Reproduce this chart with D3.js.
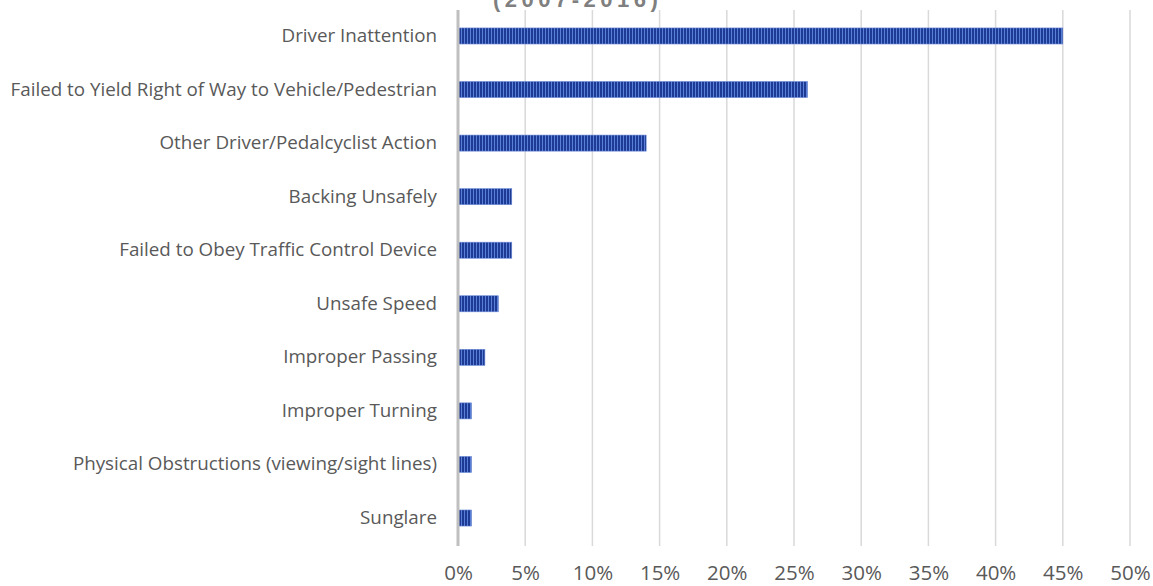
<!DOCTYPE html>
<html><head><meta charset="utf-8">
<script src="https://cdn.jsdelivr.net/npm/d3@7"></script>
<style>body{margin:0;background:#fff}</style>
</head><body>
<svg id="chart" width="1153" height="586"></svg>
<script>
const categories = ["Driver Inattention","Failed to Yield Right of Way to Vehicle/Pedestrian","Other Driver/Pedalcyclist Action","Backing Unsafely","Failed to Obey Traffic Control Device","Unsafe Speed","Improper Passing","Improper Turning","Physical Obstructions (viewing/sight lines)","Sunglare"];
const values = [45, 26, 14, 4, 4, 3, 2, 1, 1, 1];
const ticks = [0, 5, 10, 15, 20, 25, 30, 35, 40, 45, 50];
const title = "(2007-2016)";

(function(){
const svg = d3.select("#chart");
const mLeft = 458, mRight = 1130, mTop = 9.2, mBottom = 544.8;
const x = d3.scaleLinear().domain([0, 50]).range([mLeft, mRight]);
const y = d3.scaleBand().domain(categories).range([mTop, mBottom]).paddingInner(0.7).paddingOuter(0.35);

const defs = svg.append("defs");
const pat = defs.append("pattern").attr("id","stripes").attr("patternUnits","userSpaceOnUse").attr("width",3).attr("height",40);
pat.append("rect").attr("width",3).attr("height",40).attr("fill","#1d3a94");
pat.append("rect").attr("x",2).attr("width",1).attr("height",40).attr("fill","#5a7fd6");

svg.append("text").attr("x", 493).attr("y", 7).attr("font-family","Liberation Sans, Arial, sans-serif")
  .attr("font-weight","bold").attr("font-size",22).attr("letter-spacing",4.5).attr("fill","#7f7f7f").text(title);

svg.append("g").selectAll("line").data(ticks.slice(1)).join("line")
  .attr("x1", d => x(d)).attr("x2", d => x(d)).attr("y1", 10).attr("y2", 546)
  .attr("stroke", "#d9d9d9").attr("stroke-width", 1.5);

svg.append("g").selectAll("rect").data(values).join("rect")
  .attr("x", x(0)).attr("y", (d,i) => y(categories[i]))
  .attr("width", d => x(d) - x(0)).attr("height", y.bandwidth())
  .attr("fill", "url(#stripes)").attr("stroke","#6d8bd8").attr("stroke-width",0.6);

svg.append("line").attr("x1", x(0)).attr("x2", x(0)).attr("y1", 10).attr("y2", 546)
  .attr("stroke", "#bfbfbf").attr("stroke-width", 3);

const yAxis = d3.axisLeft(y).tickSize(0).tickPadding(21);
const gy = svg.append("g").attr("transform", `translate(${mLeft},0)`).call(yAxis);
gy.select(".domain").remove();
gy.selectAll("text").attr("font-family","Open Sans, sans-serif").attr("font-size",18.8).attr("fill","#595959");

const xAxis = d3.axisBottom(x).tickValues(ticks).tickFormat(d => d + "%").tickSize(0).tickPadding(0);
const gx = svg.append("g").attr("transform", `translate(0,580)`).call(xAxis);
gx.select(".domain").remove();
gx.selectAll("text").attr("y",0).attr("dy","0").attr("font-family","Open Sans, sans-serif").attr("font-size",20.5).attr("fill","#595959");
})();
</script>
</body></html>
